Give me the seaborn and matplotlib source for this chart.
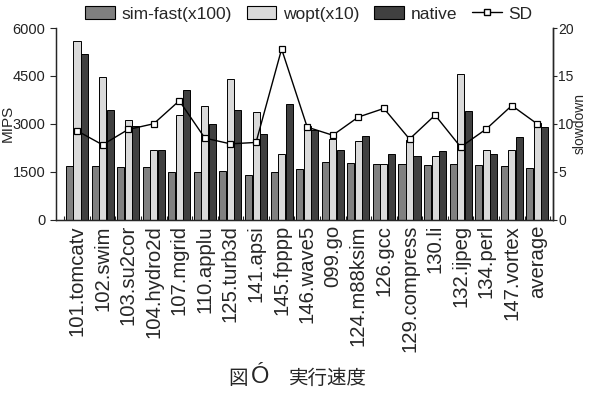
import numpy as np
import pandas as pd
import matplotlib
matplotlib.use("Agg")
import matplotlib.pyplot as plt
import seaborn as sns
from matplotlib.ticker import FixedLocator
from matplotlib.patches import Patch
from matplotlib.lines import Line2D

categories = ["101.tomcatv", "102.swim", "103.su2cor", "104.hydro2d", "107.mgrid",
              "110.applu", "125.turb3d", "141.apsi", "145.fpppp", "146.wave5",
              "099.go", "124.m88ksim", "126.gcc", "129.compress", "130.li",
              "132.ijpeg", "134.perl", "147.vortex", "average"]
sim_fast = [1667, 1688, 1646, 1646, 1479, 1479, 1521, 1396, 1479, 1583,
            1813, 1771, 1729, 1729, 1708, 1750, 1708, 1667, 1625]
wopt = [5604, 4458, 3125, 2167, 3271, 3542, 4417, 3375, 2042, 2917,
        2521, 2458, 1750, 2500, 2000, 4563, 2167, 2167, 3021]
native = [5188, 3438, 2917, 2167, 4042, 2979, 3417, 2688, 3604, 2792,
          2167, 2604, 2042, 1979, 2146, 3396, 2063, 2583, 2896]
sd = [9.27, 7.8, 9.4, 10.0, 12.4, 8.5, 7.9, 8.05, 17.8, 9.65,
      8.8, 10.7, 11.6, 8.4, 10.9, 7.57, 9.45, 11.9, 9.97]
series_names = ["sim-fast(x100)", "wopt(x10)", "native"]
colors = ["#808080", "#dadada", "#404040"]
left_ticks = [0, 1500, 3000, 4500, 6000]
right_ticks = [0, 5, 10, 15, 20]

sns.set_style("ticks")
plt.rcParams["font.family"] = ["Liberation Sans", "DejaVu Sans"]

df = pd.DataFrame({
    "bench": categories * 3,
    "value": sim_fast + wopt + native,
    "series": [s for s in series_names for _ in categories],
})

fig = plt.figure(figsize=(5.89, 3.93), dpi=100)
ax = fig.add_axes([56 / 589, 1 - 219.5 / 393, (552.5 - 56) / 589, (219.5 - 28) / 393])

sns.barplot(data=df, x="bench", y="value", hue="series", order=categories,
            hue_order=series_names, palette=colors, width=0.88, gap=0.06,
            edgecolor="black", linewidth=0.7, saturation=1, ax=ax, legend=False)

ax.set_xlim(-0.82, len(categories) - 1 + 0.59)
ax.set_ylim(0, 6000)
ax.set_yticks(left_ticks)
ax.set_yticklabels([str(t) for t in left_ticks], fontsize=10.5, color="#222222")
ax.tick_params(axis="x", length=0, labelsize=14.6, rotation=90, pad=4)
ax.xaxis.set_minor_locator(FixedLocator(np.arange(len(categories) + 1) - 0.5))
ax.tick_params(axis="x", which="minor", direction="in", length=3, width=0.8)
ax.tick_params(axis="y", length=4, width=0.8)
ax.set_xlabel("")
ax.set_ylabel("MIPS", fontsize=11)
ax.yaxis.set_label_coords((15 - 56) / 496.5, 0.5)
ax.spines["top"].set_visible(False)
for s in ["left", "bottom", "right"]:
    ax.spines[s].set_linewidth(1.0)

ax2 = ax.twinx()
sns.lineplot(x=np.arange(len(categories)), y=sd, ax=ax2, color="black", lw=1.0,
             marker="s", markersize=4, markerfacecolor="white",
             markeredgecolor="black", markeredgewidth=0.9, legend=False)
ax2.set_ylim(0, 20)
ax2.set_yticks(right_ticks)
ax2.set_yticklabels([str(t) for t in right_ticks], fontsize=10, color="#222222")
ax2.tick_params(axis="y", length=3, width=0.8, pad=1)
ax2.set_ylabel("slowdown", fontsize=10, rotation=90)
ax2.yaxis.set_label_coords((573 - 56) / 496.5, 0.5)
ax2.spines["top"].set_visible(False)
ax2.spines["right"].set_linewidth(1.0)

handles = [Patch(facecolor=c, edgecolor="black", linewidth=0.8) for c in colors]
handles.append(Line2D([], [], color="black", lw=1.0, marker="s", markersize=4,
                      markerfacecolor="white", markeredgecolor="black"))
labels = series_names + ["SD"]
fig.legend(handles, labels, loc="center", bbox_to_anchor=(309 / 589, 1 - 14 / 393),
           ncol=4, frameon=False, fontsize=12.5, handlelength=1.7,
           handleheight=0.8, handletextpad=0.4, columnspacing=0.85,
           borderaxespad=0, borderpad=0)

cjk = ["Noto Sans CJK JP", "DejaVu Sans"]
fig.text(238 / 589, 1 - 378 / 393, "図", ha="center", va="center", fontsize=14, family=cjk)
fig.text(260 / 589, 1 - 377 / 393, "Ó", ha="center", va="center", fontsize=17,
         family=["Liberation Sans Narrow", "Liberation Sans", "DejaVu Sans"])
fig.text(328 / 589, 1 - 378 / 393, "実行速度", ha="center", va="center", fontsize=14, family=cjk)

fig.savefig("out.png", dpi=100)
